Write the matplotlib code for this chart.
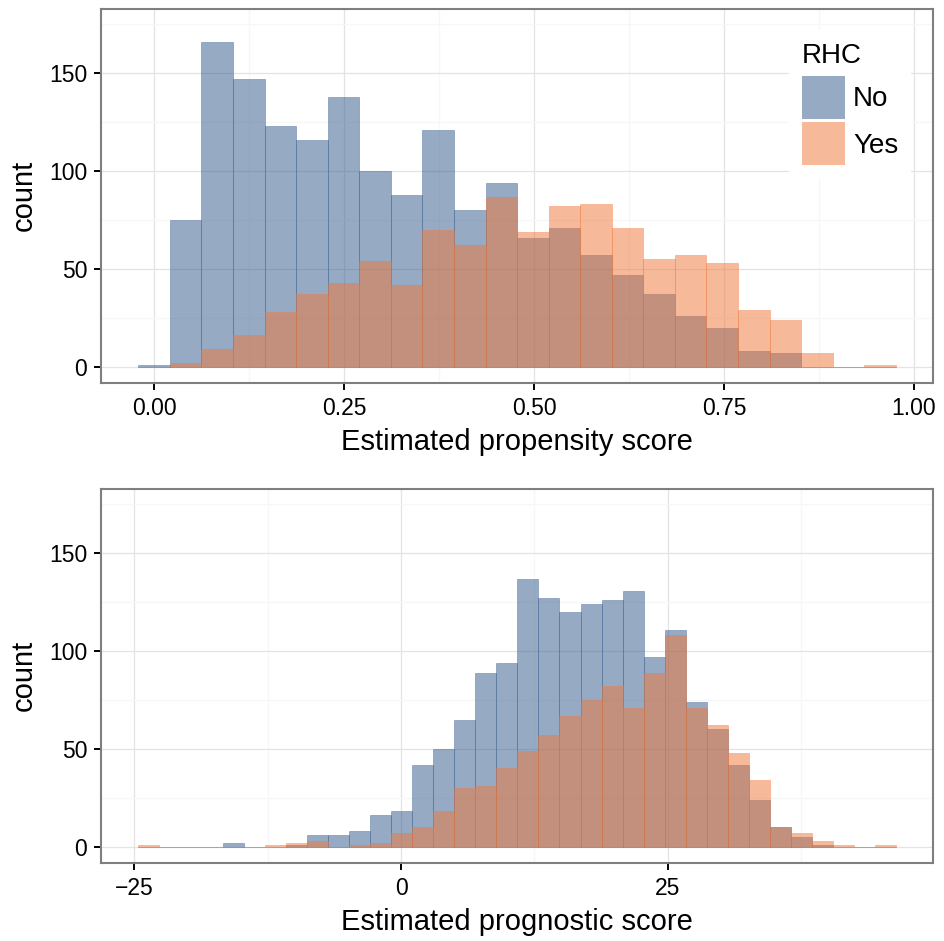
import numpy as np
import matplotlib
matplotlib.use("Agg")
import matplotlib.pyplot as plt
from matplotlib.patches import Patch

plt.rcParams["font.family"] = ["Liberation Sans", "DejaVu Sans"]

# ── data (counts) ────────────────────────────────────────────────
groups = ["No", "Yes"]
colors = {"No": "#315789", "Yes": "#ef7739"}

ps_start, ps_width = -0.0206, 0.04153
ps_no = [1, 75, 166, 147, 123, 116, 138, 100, 88, 121, 80, 94,
         66, 71, 57, 47, 37, 26, 20, 8, 7, 0, 0, 0]
ps_yes = [0, 2, 9, 16, 28, 37, 43, 54, 42, 70, 62, 87,
          69, 82, 83, 71, 55, 57, 53, 29, 24, 7, 0, 1]

pg_start, pg_width = -24.6, 1.972
pg_no = [0, 0, 0, 0, 2, 0, 0, 1, 6, 6, 8, 16, 18, 42, 50, 65, 89, 94,
         137, 127, 120, 124, 126, 131, 97, 111, 74, 60, 42, 24, 10, 5, 1, 0, 0, 0]
pg_yes = [1, 0, 0, 0, 0, 0, 1, 2, 3, 0, 1, 2, 7, 10, 18, 30, 31, 40,
          49, 57, 67, 75, 82, 71, 89, 108, 71, 62, 48, 34, 10, 7, 3, 1, 0, 1]

ps_ticks = [0.0, 0.25, 0.5, 0.75, 1.0]
ps_ticklabels = ["0.00", "0.25", "0.50", "0.75", "1.00"]
pg_ticks = [-25, 0, 25]
y_ticks = [0, 50, 100, 150]


def style_axes(ax, xlim, xticks, xlabels, xminor, xlabel):
    ax.set_xlim(*xlim)
    ax.set_ylim(-8.2, 182.9)
    ax.set_xticks(xticks)
    ax.set_xticklabels(xlabels)
    ax.set_xticks(xminor, minor=True)
    ax.set_yticks(y_ticks)
    ax.set_yticks([25, 75, 125, 175], minor=True)
    ax.grid(which="major", color="#e3e3e3", linewidth=0.9)
    ax.grid(which="minor", color="#f7f7f7", linewidth=0.9)
    ax.set_axisbelow(True)
    for sp in ax.spines.values():
        sp.set_color("#7f7f7f")
        sp.set_linewidth(1.5)
    ax.tick_params(which="major", length=5, width=1.4, color="black",
                   labelsize=16.5, labelcolor="black", pad=5)
    ax.tick_params(which="minor", length=0)
    ax.set_xlabel(xlabel, fontsize=21, labelpad=6)
    ax.set_ylabel("count", fontsize=21, labelpad=8)


def draw_hist(ax, start, width, series):
    for g, counts in series:
        edges = start + width * np.arange(len(counts))
        ax.bar(edges, counts, width=width, align="edge",
               color=colors[g], alpha=0.5, edgecolor=colors[g],
               linewidth=0.5, zorder=2)


fig = plt.figure(figsize=(9.44, 9.41), dpi=100)
ax1 = fig.add_axes([0.107, 0.5933, 0.8813, 0.3971])
ax2 = fig.add_axes([0.107, 0.0832, 0.8813, 0.3971])

draw_hist(ax1, ps_start, ps_width, [("No", ps_no), ("Yes", ps_yes)])
style_axes(ax1, (-0.0697, 1.025), ps_ticks, ps_ticklabels,
           [0.125, 0.375, 0.625, 0.875], "Estimated propensity score")

draw_hist(ax2, pg_start, pg_width, [("No", pg_no), ("Yes", pg_yes)])
style_axes(ax2, (-28.09, 49.81), pg_ticks, ["\u221225", "0", "25"],
           [-12.5, 12.5, 37.5], "Estimated prognostic score")

handles = [Patch(facecolor=colors[g], alpha=0.5, edgecolor="none") for g in groups]
leg = ax1.legend(handles, groups, title="RHC", loc="upper right",
                 bbox_to_anchor=(0.9736, 0.9438), borderaxespad=0,
                 fontsize=20, title_fontsize=20, alignment="left",
                 handlelength=1.55, handleheight=2.0, labelspacing=0.12,
                 handletextpad=0.3, borderpad=0.45, fancybox=False,
                 framealpha=1, facecolor="white", edgecolor="none")
# a bit more room between the legend title and the keys
leg._legend_box.sep = 5.4

fig.savefig("out.png", dpi=100)
